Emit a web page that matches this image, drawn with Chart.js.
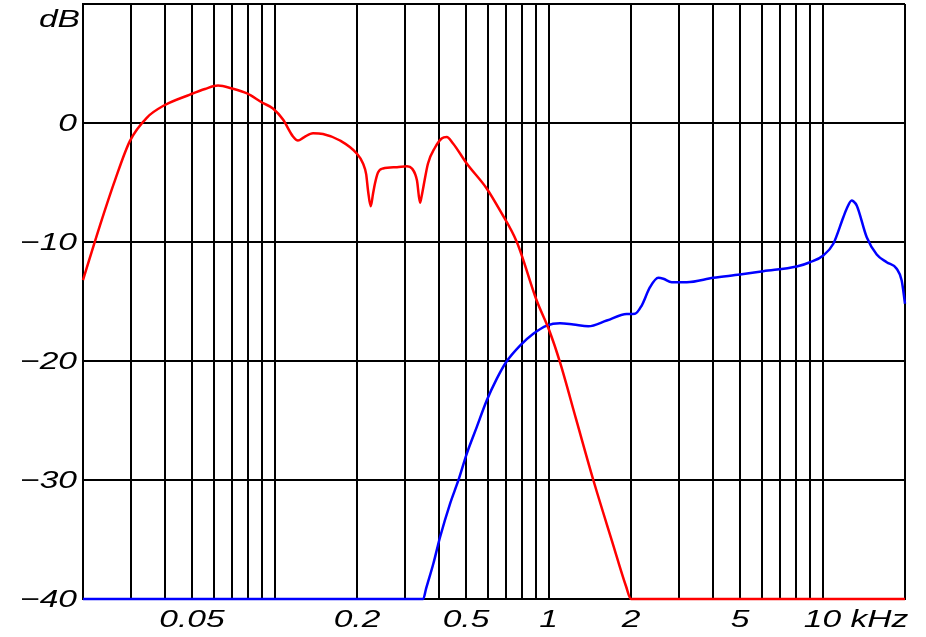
<!DOCTYPE html>
<html><head><meta charset="utf-8">
<script src="https://cdn.jsdelivr.net/npm/chart.js@4"></script>
<style>html,body{margin:0;padding:0;background:#fff;overflow:hidden}#wrap{width:926px;height:637px;position:relative}</style>
</head><body><div id="wrap"><canvas id="c" width="926" height="637"></canvas></div>
<script>
// Woofer (red) response: frequency in kHz, level in dB
const redFreq = [0.02,0.02307,0.02618,0.02968,0.03424,0.0395,0.04916,0.05574,0.0622,0.070,0.0794,0.0900,0.0987,0.1074,0.1168,0.1218,0.128,0.1382,0.1503,0.1734,0.1995,0.2104,0.2160,0.2194,0.2244,0.2290,0.2326,0.2386,0.2488,0.2798,0.3044,0.3174,0.3311,0.3396,0.3440,0.3491,0.3632,0.3853,0.4074,0.4252,0.4483,0.5029,0.5948,0.665,0.7674,0.9054,1.0066,1.101,1.26,1.457,1.705,1.918,2.0,20];
const redDb   = [-13.2,-8.6,-4.8,-1.5,0.46,1.47,2.39,2.86,3.15,2.9,2.48,1.72,1.22,0.29,-1.13,-1.47,-1.2,-0.86,-0.92,-1.47,-2.56,-3.4,-4.3,-5.67,-7.0,-5.9,-5.08,-4.16,-3.82,-3.71,-3.63,-3.82,-4.83,-6.7,-6.2,-5.42,-3.4,-2.06,-1.3,-1.18,-1.72,-3.4,-5.5,-7.35,-10.04,-14.92,-17.44,-20.1,-24.87,-30.0,-35.13,-38.93,-40,-40];
// Tweeter (blue) response
const blueFreq = [0.02,0.349,0.3572,0.3798,0.4018,0.437,0.4686,0.5029,0.547,0.5948,0.647,0.6998,0.787,0.8798,0.9848,1.101,1.232,1.397,1.631,1.929,2.068,2.188,2.346,2.516,2.624,2.816,3.194,3.994,4.998,6.08,8.05,9.0,10.07,10.95,11.91,12.25,12.78,12.95,13.33,14.5,15.77,17.15,18.65,19.45,20];
const blueDb   = [-40,-40,-39.15,-37.04,-34.81,-32.0,-30.04,-27.8,-25.56,-23.32,-21.5,-20.1,-18.7,-17.71,-17.02,-16.82,-16.93,-17.08,-16.6,-16.05,-16.03,-15.34,-13.8,-13.01,-13.09,-13.38,-13.38,-13.01,-12.73,-12.45,-12.06,-11.7,-11.13,-10.15,-7.92,-7.2,-6.51,-6.57,-6.93,-9.6,-11.05,-11.7,-12.25,-13.24,-15.19];
// Axis grid and labels
const gridFreqs = [0.02,0.03,0.04,0.05,0.06,0.07,0.08,0.09,0.1,0.2,0.3,0.4,0.5,0.6,0.7,0.8,0.9,1,2,3,4,5,6,7,8,9,10,20];
const xTickValues = [0.05,0.2,0.5,1,2,5,10];
const xTickLabels = ['0.05','0.2','0.5','1','2','5','10'];
const xUnit = ' kHz';
const yTickValues = [0,-10,-20,-30,-40];
const yTickLabels = ['0','\u221210','\u221220','\u221230','\u221240'];
const yUnit = 'dB';

const SX = 1.4;
const labelPlugin = {
  id: 'labels',
  afterDraw(chart) {
    const ctx = chart.ctx, xs = chart.scales.x, ys = chart.scales.y;
    ctx.save();
    ctx.fillStyle = '#000';
    ctx.font = 'italic 24px "Liberation Sans", Arial, sans-serif';
    ctx.textBaseline = 'middle';
    function txt(s, x, y, align) {
      const w = ctx.measureText(s).width * SX;
      const x0 = align === 'center' ? x - w / 2 : align === 'right' ? x - w : x;
      ctx.save(); ctx.translate(x0, y); ctx.scale(SX, 1); ctx.textAlign = 'left'; ctx.fillText(s, 0, 0); ctx.restore();
    }
    xTickValues.forEach((v, i) => {
      const px = xs.getPixelForValue(v);
      if (i === xTickValues.length - 1) {
        const w = ctx.measureText(xTickLabels[i]).width * SX;
        txt(xTickLabels[i] + xUnit, px - w / 2, 620, 'left');
      } else {
        txt(xTickLabels[i], px, 620, 'center');
      }
    });
    yTickValues.forEach((v, i) => txt(yTickLabels[i], 77, ys.getPixelForValue(v) + 1, 'right'));
    txt(yUnit, 80, 20, 'right');
    ctx.restore();
  }
};

const gridOpts = { color: '#000', lineWidth: 2, drawTicks: false };
new Chart(document.getElementById('c'), {
  type: 'line',
  data: {
    datasets: [
      { data: redFreq.map((f, i) => ({ x: f, y: redDb[i] })), borderColor: '#ff0000', borderWidth: 2.5, pointRadius: 0, cubicInterpolationMode: 'monotone', borderJoinStyle: 'round', clip: false, fill: false },
      { data: blueFreq.map((f, i) => ({ x: f, y: blueDb[i] })), borderColor: '#0000ff', borderWidth: 2.5, pointRadius: 0, cubicInterpolationMode: 'monotone', borderJoinStyle: 'round', clip: false, fill: false }
    ]
  },
  options: {
    responsive: false,
    animation: false,
    devicePixelRatio: 1,
    layout: { padding: { left: 83, right: 21, top: 4, bottom: 38 } },
    plugins: { legend: { display: false }, tooltip: { enabled: false } },
    scales: {
      x: {
        type: 'logarithmic', min: 0.02, max: 20,
        ticks: { display: false },
        grid: gridOpts, border: { color: '#000', width: 2 },
        afterBuildTicks: s => { s.ticks = gridFreqs.map(v => ({ value: v })); }
      },
      y: {
        type: 'linear', min: -40, max: 10,
        ticks: { display: false, stepSize: 10 },
        grid: gridOpts, border: { color: '#000', width: 2 }
      }
    }
  },
  plugins: [labelPlugin]
});
</script>
</body></html>
